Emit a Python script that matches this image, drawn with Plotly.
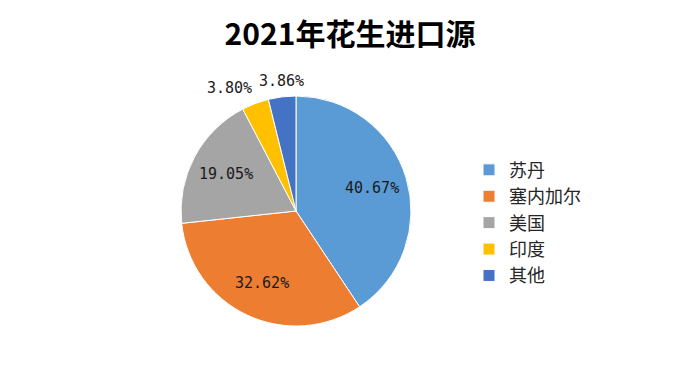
import math
import plotly.graph_objects as go

labels = ["苏丹", "塞内加尔", "美国", "印度", "其他"]
values = [40.67, 32.62, 19.05, 3.80, 3.86]
colors = ["#5B9BD5", "#ED7D31", "#A5A5A5", "#FFC000", "#4472C4"]
label_inside = [True, True, True, False, False]

W, H = 700, 365
cx, cy, r = 296, 211, 115

fig = go.Figure(go.Pie(
    labels=labels,
    values=values,
    sort=False,
    direction="clockwise",
    rotation=0,
    marker=dict(colors=colors, line=dict(color="white", width=1)),
    textinfo="none",
    domain=dict(x=[(cx - r) / W, (cx + r) / W], y=[(H - cy - r) / H, (H - cy + r) / H]),
    hoverinfo="label+percent",
))

# data labels placed from slice mid-angles
total = sum(values)
cum = 0.0
for v, inside in zip(values, label_inside):
    a = 2 * math.pi * (cum + v / 2) / total
    cum += v
    if inside:
        d = 0.69 * r
        px, py = cx + d * math.sin(a), cy - d * math.cos(a)
        xa, ya = "center", "middle"
    else:
        d = 1.05 * r
        px, py = cx + d * math.sin(a), cy - d * math.cos(a)
        xa = "right" if math.sin(a) < -0.2 else "center"
        ya = "bottom"
    fig.add_annotation(
        x=px / W, y=1 - py / H, xref="paper", yref="paper",
        text=f"{v:.2f}%", showarrow=False, xanchor=xa, yanchor=ya,
        font=dict(family="DejaVu Sans Mono", size=15, color="#1a1a1a"),
        borderpad=0,
    )

fig.update_layout(
    width=W, height=H,
    margin=dict(l=0, r=0, t=0, b=0),
    paper_bgcolor="white",
    plot_bgcolor="white",
    title=dict(text="<b>2021年花生进口源</b>", x=0.5, xanchor="center", y=0.905, yanchor="middle",
               font=dict(family="Noto Sans CJK SC", size=30, color="black")),
    legend=dict(x=0.67, y=0.39, xanchor="left", yanchor="middle",
                font=dict(family="Noto Sans CJK SC", size=18, color="#262626"),
                itemwidth=30),
    showlegend=True,
)

fig.write_html("out.html", config={"displayModeBar": False},
               post_script="document.body.style.margin='0';")
